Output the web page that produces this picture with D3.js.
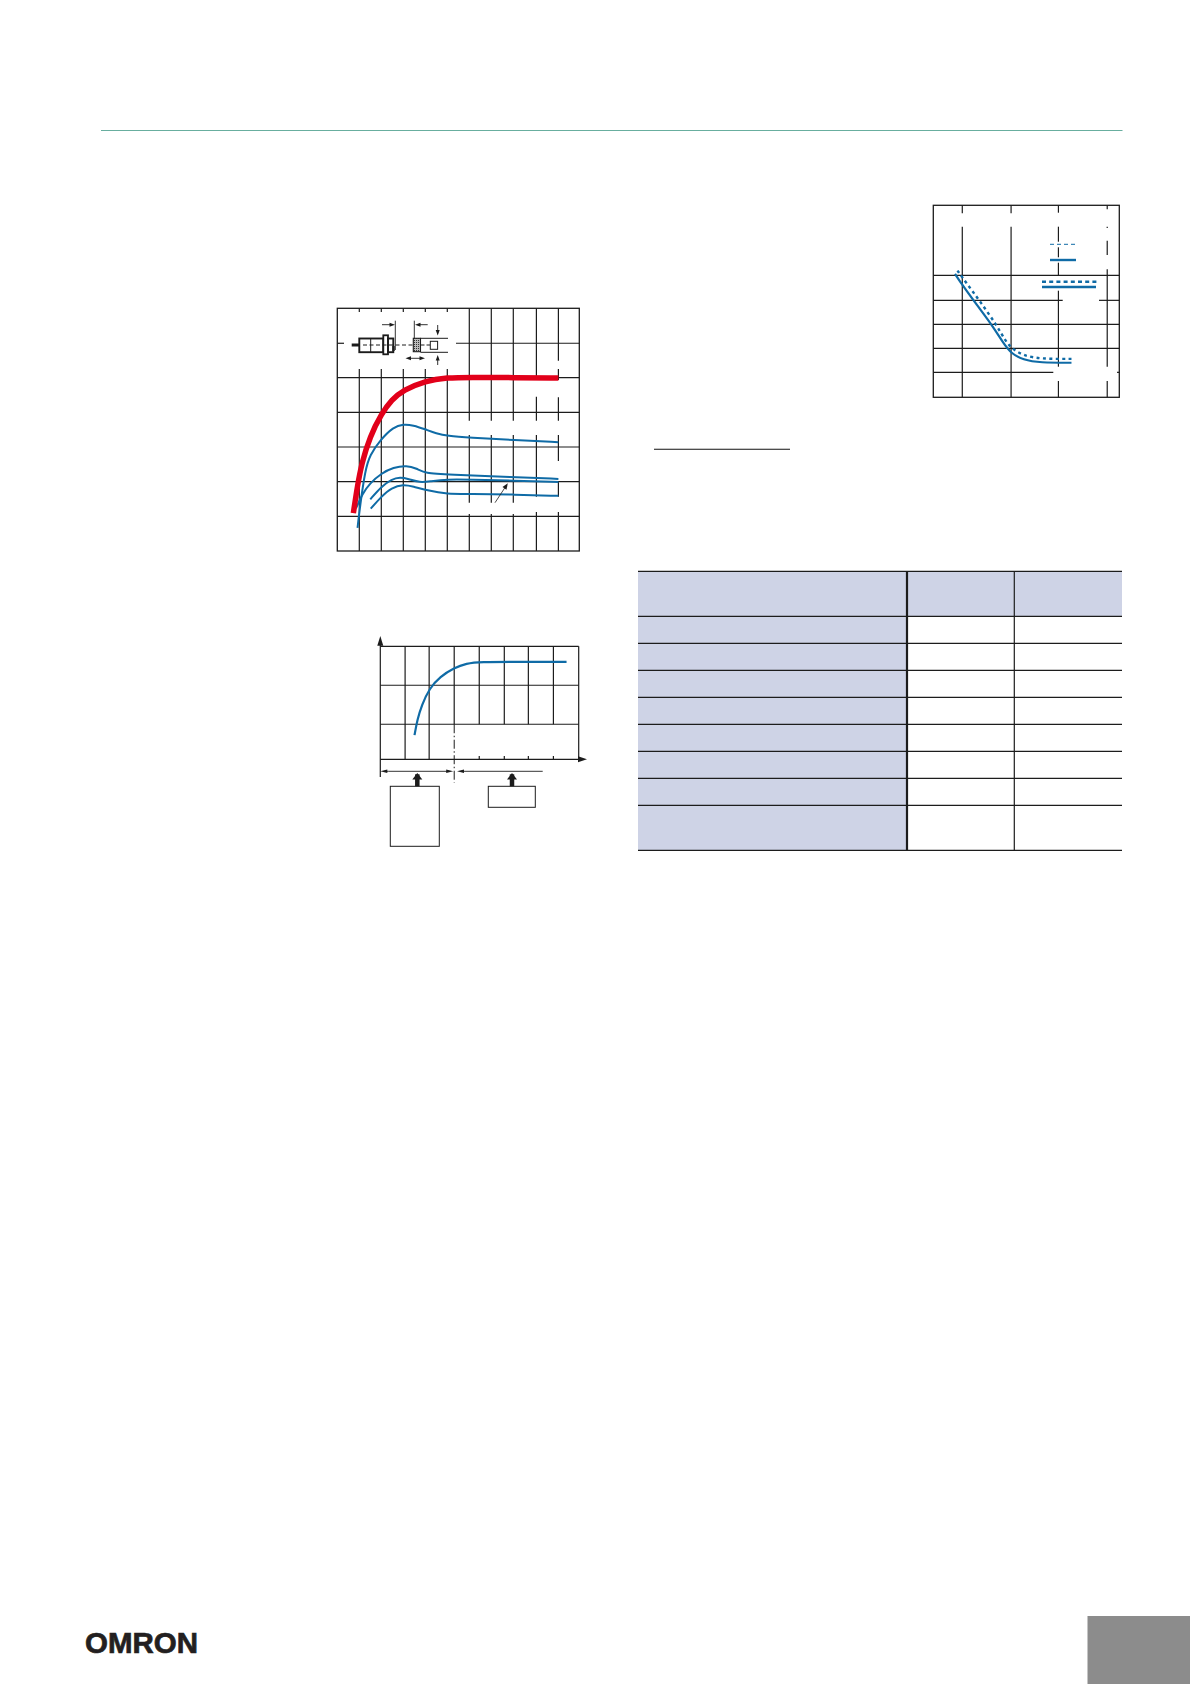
<!DOCTYPE html>
<html><head><meta charset="utf-8">
<style>html,body{margin:0;padding:0;background:#fff}svg{display:block}</style>
<script src="https://cdn.jsdelivr.net/npm/d3@7"></script>
</head><body><div id="c"></div>
<script>
// ---- Chart 1 values (grid units)
const c1Red=[[.73,1.09],[.91,1.86],[1.11,2.53],[1.48,3.30],[2.02,3.97],[2.47,4.36],[3,4.64],[4,4.91],[5,5],[6,5.01],[8,5],[10.05,4.99]];
const c1BlueA=[[.92,.67],[1.03,1.28],[1.27,2.34],[1.48,2.77],[1.95,3.2],[2.55,3.58],[3,3.66],[3.45,3.63],[4,3.51],[4.5,3.39],[5,3.32],[6,3.27],[8,3.2],[10.05,3.14]];
const c1BlueB=[[.85,1.23],[1.15,1.66],[1.48,1.95],[2,2.24],[2.55,2.41],[3.15,2.47],[3.61,2.38],[4,2.24],[5,2.21],[8,2.13],[10.05,2.08]];
const c1BlueC=[[1.5,1.49],[2,1.86],[2.47,2.07],[2.85,2.13],[3.23,2.08],[3.76,1.97],[4.21,2.01],[5,2.07],[6,2.06],[8,2.03],[10.05,1.99]];
const c1BlueD=[[1.52,1.22],[2,1.57],[2.47,1.83],[3,1.92],[3.45,1.86],[4.06,1.75],[5,1.64],[6,1.65],[8,1.63],[10.05,1.59]];
const c1XTicks=[1,2,3,4,5,6,7,8,9.05,10.05];
const c1YTicks=[1,2,3,4,5,6];
// ---- Chart 2 values
const c2Curve=[[1.38,.62],[1.49,1.01],[1.67,1.39],[1.98,1.82],[2.41,2.12],[2.98,2.35],[3.48,2.46],[3.99,2.5],[5.63,2.5],[7.51,2.5]];
const c2XTicks=[1,1.97,2.98,3.99,5,5.97,6.98];
const c2YTicks=[.9,1.9];
// ---- Chart 3 values
const c3Solid=[[.45,5.14],[.6,4.68],[.9,3.85],[1.24,2.94],[1.45,2.25],[1.61,1.83],[1.86,1.56],[2.21,1.44],[2.86,1.44]];
const c3Dotted=[[.5,5.28],[.69,4.75],[.97,3.99],[1.31,3.01],[1.48,2.39],[1.62,2.04],[1.86,1.74],[2.21,1.6],[2.86,1.6]];
const c3XTicks=[.6,1.61,2.59,3.6];
const c3YTicks=[1.04,2.04,3.04,4.04,5.08];
// ---- Table
const tableRows=["h","r1","r2","r3","r4","r5","r6","r7","r8"];
const tableRowHeights=[45,27,27,27,27,27,27,27,45];
const tableCols=["label","a","b"];
const tableColWidths=[269,107.3,107.7];

const INK="#1c1c1c",BLUE="#0f6ba6",RED="#e2001a";
const svg=d3.select("#c").append("svg").attr("width",1190).attr("height",1684).attr("viewBox","0 0 1190 1684");
const defs=svg.append("defs");
const hatch=defs.append("pattern").attr("id","hatch").attr("width",2).attr("height",2).attr("patternUnits","userSpaceOnUse");
hatch.append("rect").attr("width",2).attr("height",2).attr("fill","#bbb");
hatch.append("rect").attr("width",1).attr("height",1).attr("fill","#333");
function ln(g,x1,y1,x2,y2,w=1.2,c=INK,dash=null){
  const l=g.append("line").attr("x1",x1).attr("y1",y1).attr("x2",x2).attr("y2",y2).attr("stroke",c).attr("stroke-width",w);
  if(dash)l.attr("stroke-dasharray",dash);return l;}
function tri(g,pts,c=INK){g.append("path").attr("d","M"+pts.map(p=>p.join(",")).join("L")+"Z").attr("fill",c);}
function arrow(g,x1,y1,x2,y2,w=.9,s=5,hw=1.6){
  const a=Math.atan2(y2-y1,x2-x1),ca=Math.cos(a),sa=Math.sin(a);
  ln(g,x1,y1,x2-ca*s*.6,y2-sa*s*.6,w);
  tri(g,[[x2,y2],[x2-ca*s-sa*hw,y2-sa*s+ca*hw],[x2-ca*s+sa*hw,y2-sa*s-ca*hw]]);}
function curve(g,scX,scY,d,w,c,dash){
  const p=g.append("path").attr("d",d3.line().x(v=>scX(v[0])).y(v=>scY(v[1])).curve(d3.curveBasis)(d))
   .attr("fill","none").attr("stroke",c).attr("stroke-width",w);
  if(dash)p.attr("stroke-dasharray",dash);return p;}

// header rule
ln(svg,101,130.5,1122.5,130.5,1.2,"#68ae9f");

// ===== Chart 1
{const g=svg.append("g");
 const x=d3.scaleLinear().domain([0,11]).range([337.3,579.3]);
 const y=d3.scaleLinear().domain([0,7]).range([551,308.3]);
 const vSegs=[
  [[308.3,312],[369,551]],[[308.3,312],[369,551]],[[308.3,312],[369,551]],[[308.3,312],[369,551]],[[308.3,312],[369,551]],
  [[308.3,420.7],[435,502.7],[514,551]],[[308.3,420.7],[435,502.7],[514,551]],[[308.3,420.7],[435,502.7],[514,551]],
  [[308.3,378],[396.7,420.7],[435,496.7],[512,551]],[[308.3,360.7],[369,380],[397.3,420.7],[435,461],[481.7,496.7],[512,551]]];
 c1XTicks.forEach((t,i)=>vSegs[i].forEach(s=>ln(g,x(t),s[0],x(t),s[1])));
 c1YTicks.forEach(t=>{
  if(t===6){ln(g,x(0),y(t)+.3,344,y(t)+.3);ln(g,456,y(t)+.3,x(11),y(t)+.3);}
  else ln(g,x(0),y(t),x(11),y(t));});
 g.append("rect").attr("x",x(0)).attr("y",y(7)).attr("width",x(11)-x(0)).attr("height",y(0)-y(7)).attr("fill","none").attr("stroke",INK).attr("stroke-width",1.3);
 [c1BlueB,c1BlueC,c1BlueD,c1BlueA].forEach(d=>curve(g,x,y,d,2,BLUE));
 curve(g,x,y,c1Red,5.5,RED);
 arrow(g,495,502.7,507.8,483.3,.8,6,2.4);
 // sensor sketch
 const s=g.append("g");
 s.append("rect").attr("x",359.3).attr("y",338.5).attr("width",24).attr("height",13.7).attr("fill","none").attr("stroke",INK).attr("stroke-width",1.9);
 ln(s,370.7,338.5,370.7,352.2,1);
 s.append("rect").attr("x",383.3).attr("y",335.3).attr("width",4.7).attr("height",19).attr("fill","#fff").attr("stroke",INK).attr("stroke-width",1.8);
 s.append("rect").attr("x",388).attr("y",338.5).attr("width",5.3).attr("height",13.7).attr("fill","none").attr("stroke",INK).attr("stroke-width",1.9);
 ln(s,351.7,345,359.3,345,3);
 ln(s,363,345,413,345,1,INK,"4,2.5");
 ln(s,393.5,346,393.5,351,2.4);
 ln(s,395.3,320.7,395.3,350,.9);
 arrow(s,382,324.7,395,324.7,.9,5.5,2);
 s.append("rect").attr("x",413.3).attr("y",338.3).attr("width",7.2).attr("height",13.4).attr("fill","url(#hatch)").attr("stroke",INK).attr("stroke-width",1.1);
 ln(s,420.5,338.3,448,338.3,1);ln(s,420.5,352.3,448,352.3,1);
 ln(s,420.5,345,430,345,1,INK,"4,2");
 s.append("rect").attr("x",430.3).attr("y",341.3).attr("width",7.3).attr("height",8).attr("fill","none").attr("stroke",INK).attr("stroke-width",1);
 ln(s,414.3,320.7,414.3,338.3,.9);
 arrow(s,427.7,324.7,415,324.7,.9,5.5,2);
 arrow(s,416,358.3,405.5,358.3,.9,5.5,2);arrow(s,416,358.3,425,358.3,.9,5.5,2);
 arrow(s,437.7,325,437.7,335.5,.9,5.5,2);
 arrow(s,437.7,365,437.7,355,.9,5.5,2);
}

// ===== Chart 2
{const g=svg.append("g");
 const x=d3.scaleLinear().domain([0,8]).range([380.3,578.7]);
 const y=d3.scaleLinear().domain([0,2.9]).range([759.3,646.3]);
 c2YTicks.forEach(t=>ln(g,x(0),y(t),x(8),y(t)));
 ln(g,x(0),y(2.9),x(8),y(2.9));ln(g,x(0),y(0),x(8),y(0));ln(g,x(8),y(2.9),x(8),y(0));
 c2XTicks.forEach((t,i)=>{
   if(i<2)ln(g,x(t),y(2.9),x(t),y(0));
   else if(i===2){ln(g,x(t),y(2.9),x(t),y(.9));ln(g,x(t),y(.9),x(t),782.7,1,INK,"9,2.5,1.5,2.5");}
   else{ln(g,x(t),y(2.9),x(t),y(.9));ln(g,x(t),y(0)-3.3,x(t),y(0));}
 });
 ln(g,x(0),y(2.9)-3,x(0),777);
 tri(g,[[x(0),636],[x(0)-3,y(2.9)-.5],[x(0)+3,y(2.9)-.5]]);
 tri(g,[[587,y(0)],[578,y(0)-3],[578,y(0)+3]]);
 const ay=771.3;
 arrow(g,x(0)+8,ay,x(0),ay,.9,7,1.8);
 arrow(g,x(0)+8,ay,x(2.98)-1,ay,.9,7,1.8);
 arrow(g,542.7,ay,457,ay,.9,7,1.8);
 [417.3,512].forEach(ax=>{
  ln(g,ax,ay+3,ax,786.3,4.5);
  tri(g,[[ax,773],[ax-5,779.5],[ax+5,779.5]]);
 });
 [[390.3,786.3,49,60],[488.3,786.3,47,21]].forEach(b=>g.append("rect").attr("x",b[0]).attr("y",b[1]).attr("width",b[2]).attr("height",b[3]).attr("fill","none").attr("stroke",INK).attr("stroke-width",1));
 curve(g,x,y,c2Curve,2.2,BLUE);
}

// ===== Chart 3
{const g=svg.append("g");
 const x=d3.scaleLinear().domain([0,3.85]).range([933.3,1119.3]);
 const y=d3.scaleLinear().domain([0,8]).range([397.3,205.3]);
 const vSegs=[
  [[205.3,213.3],[226.7,397.3]],[[205.3,213.3],[226.7,397.3]],
  [[205.3,212.7],[226.7,241.7],[247.3,257.3],[262.7,276],[290.7,366.7],[381,397.3]],
  [[205.3,209.3],[226.7,228],[240.7,255],[269.3,366.7],[381,397.3]]];
 c3XTicks.forEach((t,i)=>vSegs[i].forEach(s=>ln(g,x(t),s[0],x(t),s[1])));
 c3YTicks.forEach((t,i)=>{
   if(i===0){ln(g,x(0),y(t),1053.3,y(t));ln(g,1117,y(t),x(3.85),y(t));}
   else if(i===3){ln(g,x(0),y(t),1062.7,y(t));ln(g,1099,y(t),x(3.85),y(t));}
   else ln(g,x(0),y(t),x(3.85),y(t));});
 g.append("rect").attr("x",x(0)).attr("y",y(8)).attr("width",x(3.85)-x(0)).attr("height",y(0)-y(8)).attr("fill","none").attr("stroke",INK).attr("stroke-width",1.3);
 curve(g,x,y,c3Dotted,2.4,BLUE,"3,3.4");
 curve(g,x,y,c3Solid,2.2,BLUE);
 ln(g,1050,244.3,1075,244.3,1,BLUE,"4,3");
 ln(g,1050,260,1076,260,2.4,BLUE);
 ln(g,1042,281.7,1096.7,281.7,2.4,BLUE,"4,3.2");
 ln(g,1042,287,1096,287,2.4,BLUE);
}

// underline
ln(svg,654,449.3,790,449.3,1.1,"#111");

// ===== Table
{const g=svg.append("g");
 const x0=638,y0=571.3;
 const ys=tableRowHeights.reduce((a,h)=>(a.push(a[a.length-1]+h),a),[y0]);
 const xs=tableColWidths.reduce((a,w)=>(a.push(a[a.length-1]+w),a),[x0]);
 g.selectAll("rect.a").data(tableRows).join("rect").attr("x",xs[0]).attr("y",(d,i)=>ys[i]).attr("width",tableColWidths[0]).attr("height",(d,i)=>tableRowHeights[i]).attr("fill","#ced3e6");
 g.selectAll("rect.b").data(tableCols.slice(1)).join("rect").attr("class","hd").attr("x",(d,i)=>xs[i+1]).attr("y",ys[0]).attr("width",(d,i)=>tableColWidths[i+1]).attr("height",tableRowHeights[0]).attr("fill","#ced3e6");
 ys.forEach(v=>ln(g,xs[0],v,xs[3],v,1.2));
 ln(g,xs[1],ys[0],xs[1],ys[9],2.2);
 ln(g,xs[2],ys[0],xs[2],ys[9],1.2);
}

// footer
svg.append("rect").attr("x",1087.5).attr("y",1616).attr("width",102.5).attr("height",68).attr("fill","#8c8c8c");
svg.append("text").attr("x",85).attr("y",1653).attr("textLength",113).attr("lengthAdjust","spacingAndGlyphs")
 .attr("font-family","Liberation Sans").attr("font-weight",700).attr("font-size",30).attr("fill","#231f20").attr("stroke","#231f20").attr("stroke-width",.7).text("OMRON");
</script></body></html>
